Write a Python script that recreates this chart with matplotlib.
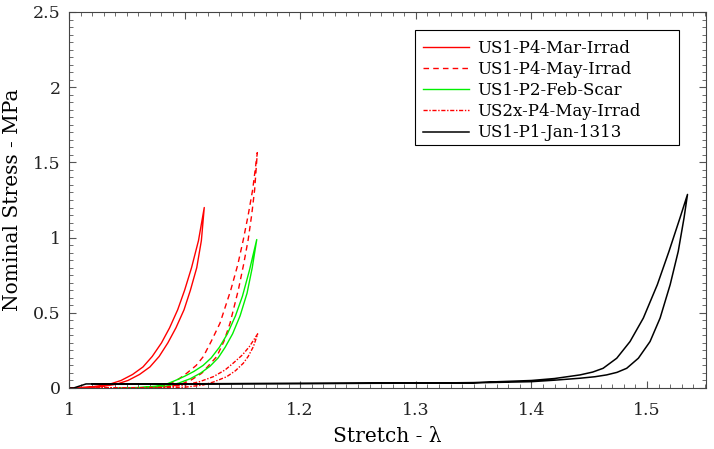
#!/usr/bin/env python3
"""
Plot nominal stress vs stretch loading/unloading loops for five specimens.
"""

import matplotlib
matplotlib.use('Agg')
import matplotlib.pyplot as plt
from matplotlib.patches import Rectangle
from matplotlib.ticker import MultipleLocator, FuncFormatter

# Loading (upper) and unloading (lower) branches
mar_irrad_stretch = [1.000, 1.020, 1.035, 1.045, 1.055, 1.064, 1.072, 1.080, 1.087, 1.094, 1.100, 1.106, 1.112,
                     1.117,
                     1.1145, 1.1105, 1.105, 1.0995, 1.0925, 1.0855, 1.078, 1.070, 1.061, 1.051, 1.041, 1.027, 1.010]
mar_irrad_stress = [0.000, 0.008, 0.025, 0.050, 0.090, 0.140, 0.210, 0.300, 0.400, 0.520, 0.650, 0.800, 0.980,
                    1.200,
                    0.980, 0.800, 0.650, 0.520, 0.400, 0.300, 0.210, 0.140, 0.090, 0.050, 0.025, 0.008, 0.000]

may_irrad_stretch = [1.070, 1.085, 1.095, 1.1018, 1.110, 1.1162, 1.123, 1.1306, 1.140, 1.146, 1.1508, 1.155, 1.1589,
                     1.1629,
                     1.1606, 1.158, 1.155, 1.151, 1.1465, 1.1393, 1.134, 1.1278, 1.1148, 1.105, 1.095, 1.080, 1.060]
may_irrad_stress = [0.000, 0.020, 0.060, 0.098, 0.150, 0.209, 0.310, 0.431, 0.653, 0.820, 0.987, 1.150, 1.320,
                    1.565,
                    1.320, 1.150, 0.987, 0.820, 0.653, 0.431, 0.310, 0.209, 0.098, 0.050, 0.020, 0.005, 0.000]

feb_scar_stretch = [1.040, 1.060, 1.075, 1.085, 1.092, 1.100, 1.108, 1.116, 1.123, 1.130, 1.137, 1.144, 1.150,
                    1.156, 1.1624,
                    1.1585, 1.154, 1.148, 1.1415, 1.135, 1.129, 1.122, 1.114, 1.105, 1.095, 1.085, 1.070, 1.050]
feb_scar_stress = [0.000, 0.003, 0.012, 0.028, 0.050, 0.078, 0.110, 0.150, 0.200, 0.270, 0.360, 0.480, 0.610,
                   0.780, 0.987,
                   0.800, 0.630, 0.480, 0.360, 0.270, 0.200, 0.145, 0.100, 0.062, 0.033, 0.014, 0.004, 0.000]

us2x_stretch = [1.000, 1.050, 1.080, 1.100, 1.113, 1.1248, 1.135, 1.142, 1.150, 1.156, 1.1632,
                1.1595, 1.155, 1.1508, 1.144, 1.1364, 1.125, 1.116, 1.100, 1.070, 1.020]
us2x_stress = [0.000, 0.000, 0.005, 0.020, 0.042, 0.075, 0.120, 0.165, 0.220, 0.275, 0.360,
               0.275, 0.210, 0.165, 0.115, 0.075, 0.040, 0.020, 0.005, 0.000, 0.000]

jan1313_stretch = [1.000, 1.004, 1.0147, 1.100, 1.200, 1.300, 1.350, 1.400, 1.420, 1.442, 1.453, 1.462, 1.4738,
                   1.4853, 1.4968, 1.5089, 1.519, 1.5285, 1.535,
                   1.532, 1.527, 1.520, 1.5113, 1.5026, 1.4925, 1.4824, 1.474, 1.465, 1.455, 1.442, 1.420, 1.400,
                   1.350, 1.200, 1.100, 1.020]
jan1313_stress = [0.000, 0.000, 0.027, 0.028, 0.030, 0.032, 0.036, 0.050, 0.063, 0.087, 0.106, 0.131, 0.198,
                  0.309, 0.465, 0.687, 0.909, 1.131, 1.287,
                  1.131, 0.909, 0.687, 0.465, 0.309, 0.198, 0.131, 0.104, 0.087, 0.075, 0.065, 0.052, 0.042,
                  0.034, 0.030, 0.028, 0.027]

series_labels = ['US1-P4-Mar-Irrad', 'US1-P4-May-Irrad', 'US1-P2-Feb-Scar', 'US2x-P4-May-Irrad', 'US1-P1-Jan-1313']


def main():
    plt.rcParams['font.family'] = ['DejaVu Serif']
    W, H = 714, 449
    fig = plt.figure(figsize=(W / 100, H / 100), dpi=100)
    ax = fig.add_axes([69 / W, 1 - 388 / H, 637 / W, 376 / H])

    ax.plot(mar_irrad_stretch, mar_irrad_stress, color='#ff0000', lw=1.0, label=series_labels[0])
    ax.plot(may_irrad_stretch, may_irrad_stress, color='#ff0000', lw=1.0, ls=(0, (4, 3)), label=series_labels[1])
    ax.plot(feb_scar_stretch, feb_scar_stress, color='#00f000', lw=1.0, label=series_labels[2])
    ax.plot(us2x_stretch, us2x_stress, color='#ff0000', lw=1.0, ls=(0, (3, 1.2, 1, 1.2)), label=series_labels[3])
    ax.plot(jan1313_stretch, jan1313_stress, color='black', lw=1.1, label=series_labels[4])

    ax.set_xlim(1, 1.551)
    ax.set_ylim(0, 2.5)
    ax.xaxis.set_major_locator(MultipleLocator(0.1))
    ax.xaxis.set_minor_locator(MultipleLocator(0.01))
    ax.yaxis.set_major_locator(MultipleLocator(0.5))
    ax.yaxis.set_minor_locator(MultipleLocator(0.05))
    ax.xaxis.set_major_formatter(FuncFormatter(lambda v, p: f'{v:g}'))
    ax.yaxis.set_major_formatter(FuncFormatter(lambda v, p: f'{v:g}'))
    ax.tick_params(which='both', direction='in', top=True, right=True, labelsize=12.5, colors='#555555',
                   labelcolor='#222222')
    ax.tick_params(which='major', length=5)
    ax.tick_params(which='minor', length=3)
    ax.tick_params(axis='x', pad=10)
    ax.tick_params(axis='y', pad=6)
    for s in ax.spines.values():
        s.set_color('#444444')
        s.set_linewidth(0.8)

    ax.set_xlabel('Stretch - λ', fontsize=14.5, labelpad=6)
    ax.set_ylabel('Nominal Stress - MPa', fontsize=14.5, labelpad=8)

    # MATLAB-style legend box with wide right padding
    box = Rectangle((415 / W, 1 - 145 / H), 264 / W, 115 / H, transform=fig.transFigure,
                    facecolor='white', edgecolor='black', lw=0.8, zorder=4, clip_on=False)
    ax.add_artist(box)
    leg = ax.legend(loc='upper left', bbox_to_anchor=(416 / W, 1 - 33 / H), bbox_transform=fig.transFigure,
                    borderaxespad=0, frameon=False, fontsize=12, handlelength=2.75,
                    labelspacing=0.25, handletextpad=0.5)
    leg.set_zorder(6)

    fig.savefig('out.png', dpi=100)
    plt.close(fig)
    return 0


if __name__ == '__main__':
    main()
